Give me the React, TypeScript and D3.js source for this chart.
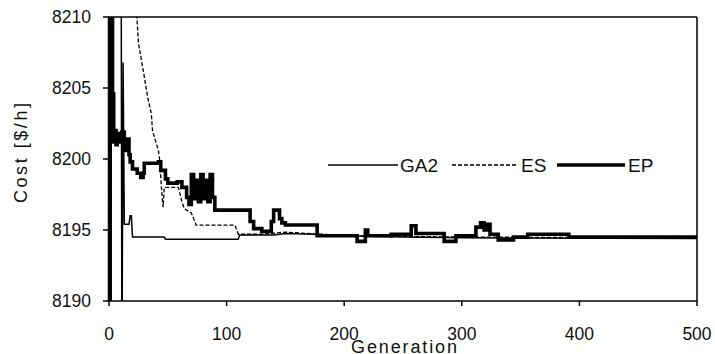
import React from 'react';
import * as d3 from 'd3';

const WIDTH = 715;
const HEIGHT = 354;

const xTicks = [0, 100, 200, 300, 400, 500];
const yTicks = [8190, 8195, 8200, 8205, 8210];
const seriesNames = ['GA2', 'ES', 'EP'];

// [generation, cost] pairs for each algorithm
const ga2Data: [number, number][] = [
  [0, 8230], [10, 8230], [11, 8185], [12, 8206.8], [13, 8195.4], [17, 8195.4],
  [18, 8196.0], [19, 8196.0], [20, 8194.5], [47, 8194.5], [48, 8194.35],
  [110, 8194.35], [111, 8194.65], [140, 8194.65], [150, 8194.75], [175, 8194.7],
  [200, 8194.6], [250, 8194.5], [300, 8194.45], [500, 8194.4],
];

const esData: [number, number][] = [
  [0, 8260], [22, 8212], [24, 8209.6], [25, 8208.2], [30, 8205.8], [33, 8204.3],
  [36, 8203.2], [37, 8202.0], [42, 8200.6], [43, 8200.0], [45, 8197.5],
  [46, 8196.6], [47, 8198.0], [59, 8198.0], [62, 8197.0], [64, 8196.5],
  [70, 8196.2], [73, 8195.6], [74, 8195.35], [107, 8195.35], [110, 8194.7],
  [130, 8194.7], [150, 8194.85], [200, 8194.6], [300, 8194.5], [500, 8194.45],
];

// EP keeps its best cost until the next improvement, so it is drawn as steps
const epData: [number, number][] = [
  [0, 8185], [1, 8215], [3, 8204.6], [4, 8201.2], [5, 8202.0], [6, 8201.0],
  [7, 8201.8], [9, 8201.2], [11, 8201.9], [13, 8200.6], [15, 8201.4],
  [17, 8200.3], [18, 8199.8], [20, 8199.3], [24, 8199.0], [27, 8198.7],
  [29, 8199.0], [30, 8199.7], [42, 8199.8], [44, 8199.2], [48, 8198.6],
  [50, 8198.3], [58, 8198.4], [62, 8198.0], [66, 8197.3], [68, 8196.8],
  [70, 8198.9], [72, 8197.2], [74, 8198.5], [76, 8197.0], [78, 8198.9],
  [80, 8197.2], [82, 8198.5], [84, 8197.0], [86, 8198.9], [88, 8197.3],
  [90, 8196.4], [120, 8195.6], [123, 8195.1], [130, 8194.9], [138, 8195.6],
  [140, 8196.4], [145, 8195.8], [147, 8195.5], [150, 8195.35], [177, 8194.6],
  [211, 8194.2], [218, 8195.0], [220, 8194.6], [240, 8194.7], [257, 8195.3],
  [261, 8194.75], [285, 8194.2], [295, 8194.6], [312, 8195.2], [316, 8195.5],
  [319, 8195.0], [321, 8195.4], [324, 8194.7], [331, 8194.3], [344, 8194.5],
  [356, 8194.7], [391, 8194.5], [500, 8194.45],
];

const FONT = '"Liberation Sans", Arial, sans-serif';

export default function App() {
  const left = 109;
  const right = 697;
  const top = 17;
  const bottom = 301;

  const x = d3.scaleLinear().domain([0, 500]).range([left, right]);
  const y = d3.scaleLinear().domain([8190, 8210]).range([bottom, top]);
  const linearLine = d3
    .line<[number, number]>()
    .x((d) => x(d[0]))
    .y((d) => y(d[1]));
  const stepLine = d3
    .line<[number, number]>()
    .x((d) => x(d[0]))
    .y((d) => y(d[1]))
    .curve(d3.curveStepAfter);

  const styles = [
    { data: ga2Data, width: 1.5, dash: undefined as string | undefined, gen: linearLine },
    { data: esData, width: 1.3, dash: '4,2', gen: linearLine },
    { data: epData, width: 3.6, dash: undefined as string | undefined, gen: stepLine },
  ];

  // legend layout: line start, line end, label start
  const legendY = 165;
  const legendItems = [
    { x1: 328, x2: 398, tx: 400 },
    { x1: 452, x2: 517, tx: 521 },
    { x1: 557, x2: 625, tx: 628 },
  ];

  return (
    <svg
      width={WIDTH}
      height={HEIGHT}
      style={{ position: 'absolute', left: 0, top: 0, background: '#fff' }}
      fontFamily={FONT}
    >
      <defs>
        <clipPath id="plot-clip">
          <rect x={left - 3} y={top} width={right - left + 3} height={bottom - top} />
        </clipPath>
      </defs>
      <rect x={0} y={0} width={WIDTH} height={HEIGHT} fill="#fff" />

      {/* series */}
      <g clipPath="url(#plot-clip)" fill="none" stroke="#000" strokeLinejoin="miter">
        {styles.map((s, i) => (
          <path
            key={seriesNames[i]}
            d={s.gen(s.data) ?? ''}
            strokeWidth={s.width}
            strokeDasharray={s.dash}
          />
        ))}
      </g>

      {/* frame and axes */}
      <g stroke="#000" strokeWidth={1.5} fill="none">
        <line x1={left - 1} x2={right} y1={top} y2={top} />
        <line x1={right} x2={right} y1={top} y2={bottom} />
        <line x1={left - 1} x2={right} y1={bottom} y2={bottom} />
        <line x1={left - 0.5} x2={left - 0.5} y1={top} y2={bottom} />
        {xTicks.map((t) => (
          <line key={'xt' + t} x1={x(t)} x2={x(t)} y1={bottom} y2={bottom + 5} />
        ))}
        {yTicks.map((t) => (
          <line key={'yt' + t} x1={left - 6} x2={left} y1={y(t)} y2={y(t)} />
        ))}
      </g>

      {/* tick labels */}
      <g fill="#111" fontSize={17.5}>
        {xTicks.map((t) => (
          <text key={'xl' + t} x={x(t)} y={340} textAnchor="middle">
            {t}
          </text>
        ))}
        {yTicks.map((t) => (
          <text key={'yl' + t} x={91} y={y(t)} dy="0.36em" textAnchor="end">
            {t}
          </text>
        ))}
      </g>

      {/* axis titles */}
      <text
        x={404}
        y={353}
        textAnchor="middle"
        fontSize={18}
        fill="#111"
        textLength={106}
        lengthAdjust="spacing"
      >
        Generation
      </text>
      <text
        transform={`translate(27,153) rotate(-90)`}
        textAnchor="middle"
        fontSize={18}
        fill="#111"
        textLength={100}
        lengthAdjust="spacing"
      >
        Cost [$/h]
      </text>

      {/* legend */}
      <g>
        {legendItems.map((it, i) => (
          <g key={'lg' + i}>
            <line
              x1={it.x1}
              x2={it.x2}
              y1={legendY}
              y2={legendY}
              stroke="#000"
              strokeWidth={styles[i].width}
              strokeDasharray={styles[i].dash}
            />
            <text x={it.tx} y={legendY} dy="0.36em" fontSize={19} fill="#111">
              {seriesNames[i]}
            </text>
          </g>
        ))}
      </g>
    </svg>
  );
}
